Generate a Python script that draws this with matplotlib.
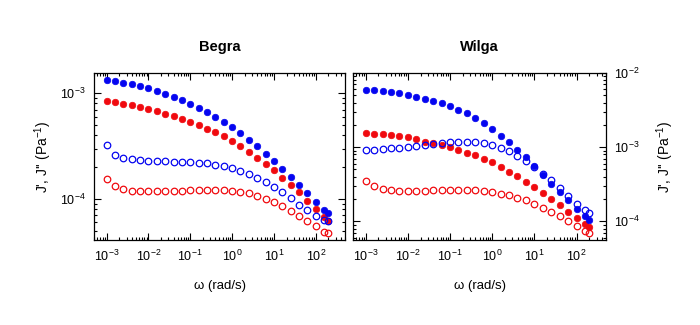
import matplotlib
matplotlib.use('Agg')
import matplotlib.pyplot as plt
from matplotlib.ticker import LogLocator, NullFormatter

plt.rcParams['font.family'] = ['Liberation Sans', 'DejaVu Sans']
plt.rcParams['mathtext.fontset'] = 'custom'
plt.rcParams['mathtext.rm'] = 'Liberation Sans'
plt.rcParams['mathtext.it'] = 'Liberation Sans:italic'
plt.rcParams['mathtext.bf'] = 'Liberation Sans:bold'

# angular frequency (rad/s)
omega = [0.001, 0.00158, 0.00251, 0.00398, 0.00631, 0.01, 0.0158, 0.0251, 0.0398, 0.0631,
         0.1, 0.158, 0.251, 0.398, 0.631, 1, 1.58, 2.51, 3.98, 6.31,
         10, 15.8, 25.1, 39.8, 63.1, 100, 158, 200]

# Begra, values in 1e-3 Pa^-1
begra_blue_filled = [1.336, 1.307, 1.252, 1.216, 1.164, 1.107, 1.052, 0.986, 0.917, 0.859,
                     0.793, 0.727, 0.662, 0.598, 0.533, 0.474, 0.416, 0.363, 0.314, 0.268,
                     0.228, 0.193, 0.162, 0.1365, 0.1139, 0.0944, 0.0793, 0.0732]
begra_red_filled = [0.847, 0.816, 0.793, 0.765, 0.738, 0.711, 0.672, 0.638, 0.603, 0.569,
                    0.533, 0.499, 0.461, 0.425, 0.390, 0.353, 0.314, 0.278, 0.245, 0.215,
                    0.186, 0.159, 0.1355, 0.1156, 0.0965, 0.0799, 0.0681, 0.0616]
begra_blue_open = [0.3256, 0.260, 0.242, 0.2366, 0.2316, 0.230, 0.230, 0.2267, 0.225, 0.2234,
                   0.2218, 0.2202, 0.217, 0.2108, 0.2034, 0.196, 0.185, 0.172, 0.1578, 0.1446,
                   0.1298, 0.1156, 0.1015, 0.0884, 0.0787, 0.0691, 0.0634, 0.0620]
begra_red_open = [0.1533, 0.1336, 0.1243, 0.1199, 0.1181, 0.1181, 0.1181, 0.1181, 0.1190, 0.1199,
                  0.1207, 0.1216, 0.1216, 0.1216, 0.1216, 0.1199, 0.1173, 0.1131, 0.1067, 0.1000,
                  0.0930, 0.0852, 0.0776, 0.0696, 0.0620, 0.0552, 0.0492, 0.0481]

# Wilga, values in 1e-3 Pa^-1
wilga_blue_filled = [5.906, 5.845, 5.725, 5.494, 5.327, 5.111, 4.804, 4.515, 4.201, 3.908,
                     3.598, 3.179, 2.867, 2.455, 2.103, 1.746, 1.436, 1.168, 0.921, 0.726,
                     0.555, 0.4245, 0.321, 0.248, 0.1916, 0.1465, 0.1168, 0.1053]
wilga_red_filled = [1.543, 1.527, 1.527, 1.465, 1.420, 1.363, 1.281, 1.192, 1.132, 1.075,
                    0.990, 0.921, 0.831, 0.773, 0.690, 0.622, 0.538, 0.4657, 0.403, 0.3417,
                    0.2867, 0.2405, 0.1997, 0.1641, 0.1335, 0.1097, 0.0911, 0.0830]
wilga_blue_open = [0.911, 0.921, 0.930, 0.960, 0.980, 1.010, 1.042, 1.075, 1.109, 1.144,
                   1.180, 1.192, 1.180, 1.168, 1.132, 1.075, 0.969, 0.884, 0.749, 0.641,
                   0.538, 0.4334, 0.356, 0.2808, 0.2215, 0.1729, 0.1406, 0.1308]
wilga_red_open = [0.3488, 0.2956, 0.2723, 0.2612, 0.2559, 0.2559, 0.2559, 0.2585, 0.2612, 0.2639,
                  0.2639, 0.2639, 0.2639, 0.2612, 0.2559, 0.2480, 0.2332, 0.2238, 0.2082, 0.1916,
                  0.1729, 0.1527, 0.1335, 0.1168, 0.1010, 0.0856, 0.0741, 0.0704]

blue = '#0505f0'
red = '#f00a0f'
ylab = "J', J'' (Pa$^{-1}$)"


def scaled(vals):
    return [v * 1e-3 for v in vals]


fig = plt.figure(figsize=(7, 3.25), dpi=100)
ax1 = fig.add_axes([94/700, 1 - 240/325, 251/700, 167/325])
ax2 = fig.add_axes([353/700, 1 - 240/325, 253/700, 167/325])

panels = [
    (ax1, 'Begra', begra_blue_filled, begra_red_filled, begra_blue_open, begra_red_open, (4.1e-5, 1.55e-3)),
    (ax2, 'Wilga', wilga_blue_filled, wilga_red_filled, wilga_blue_open, wilga_red_open, (5.6e-5, 1e-2)),
]

for ax, name, bf, rf, bo, ro, ylim in panels:
    ms = 4.7
    ax.plot(omega, scaled(rf), 'o', color=red, ms=ms, mec=red, mew=0.5, ls='none')
    ax.plot(omega, scaled(bf), 'o', color=blue, ms=ms, mec=blue, mew=0.5, ls='none')
    ax.plot(omega, scaled(ro), 'o', mfc='none', mec=red, ms=ms, mew=0.9, ls='none')
    ax.plot(omega, scaled(bo), 'o', mfc='none', mec=blue, ms=ms, mew=0.9, ls='none')
    ax.set_xscale('log')
    ax.set_yscale('log')
    ax.set_xlim(5e-4, 500)
    ax.set_ylim(*ylim)
    ax.xaxis.set_major_locator(LogLocator(base=10, numticks=20))
    ax.xaxis.set_minor_locator(LogLocator(base=10, subs=range(2, 10), numticks=20))
    ax.xaxis.set_minor_formatter(NullFormatter())
    ax.yaxis.set_minor_locator(LogLocator(base=10, subs=range(2, 10), numticks=20))
    ax.yaxis.set_minor_formatter(NullFormatter())
    ax.tick_params(which='both', direction='in', top=True, right=True, labelsize=9, width=0.8)
    ax.tick_params(which='major', length=5, pad=6)
    ax.tick_params(which='minor', length=2.5)
    for s in ax.spines.values():
        s.set_linewidth(0.9)
    ax.set_title(name, fontweight='bold', fontsize=10.5, pad=16)
    ax.set_xlabel('\u03c9 (rad/s)', fontsize=9.5, labelpad=12)

ax1.set_ylabel(ylab, fontsize=10, labelpad=4)

ax2.yaxis.tick_right()
ax2.tick_params(which='both', left=True, right=True, labelleft=False, labelright=True)
ax2.yaxis.set_label_position('right')
ax2.set_ylabel(ylab, fontsize=10, labelpad=10)

fig.savefig('out.png', dpi=100)
